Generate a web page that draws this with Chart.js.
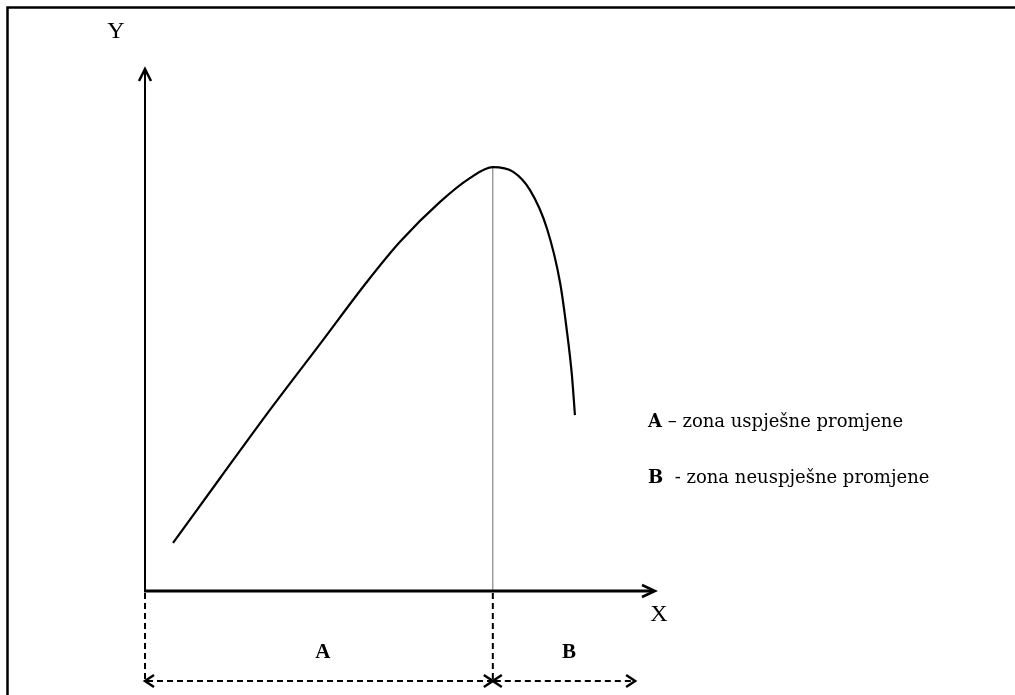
<!DOCTYPE html>
<html>
<head>
<meta charset="utf-8">
<script src="https://cdn.jsdelivr.net/npm/chart.js@4.4.1/dist/chart.umd.min.js"></script>
<style>
  html, body { margin: 0; padding: 0; background: #fff; }
  #wrap { width: 1015px; height: 695px; position: relative; }
  canvas { display: block; }
</style>
</head>
<body>
<div id="wrap"><canvas id="c" width="1015" height="695"></canvas></div>
<script>
// ---- data (arbitrary units 0..100) ----
const curveX = [5.5, 14.7, 24.5, 34.3, 43.5, 50.0, 57.8, 63.7, 68.2, 72.2, 75.5, 78.8, 81.4, 82.7, 83.7, 84.3];
const curveY = [9.2, 21.6, 34.7, 47.3, 59.2, 66.9, 74.5, 79.1, 81.2, 80.3, 76.8, 69.5, 59.0, 50.0, 41.4, 33.7];
const peakX = 68.2;
const peakY = 81.2;
const zoneEndX = 96.1;     // end of zone B arrow
const axisLabels = ['X', 'Y'];
const zoneLabels = ['A', 'B'];
const zoneTexts = [' \u2013 zona uspje\u0161ne promjene', '  - zona neuspje\u0161ne promjene'];

const curve = curveX.map((x, i) => ({ x: x, y: curveY[i] }));
const peakLine = [{ x: peakX, y: 0 }, { x: peakX, y: peakY }];

function arrowHead(ctx, tx, ty, dx, dy, len, half) {
  const n = Math.hypot(dx, dy); dx /= n; dy /= n;
  const px = -dy, py = dx;
  ctx.beginPath();
  ctx.moveTo(tx - dx * len + px * half, ty - dy * len + py * half);
  ctx.lineTo(tx, ty);
  ctx.lineTo(tx - dx * len - px * half, ty - dy * len - py * half);
  ctx.stroke();
}

const decor = {
  id: 'decor',
  afterDraw(chart) {
    const ctx = chart.ctx;
    const xs = chart.scales.x, ys = chart.scales.y;
    const X = v => xs.getPixelForValue(v);
    const Y = v => ys.getPixelForValue(v);
    const x0 = X(0), y0 = Y(0), xEnd = X(100), yTop = Y(100);
    const xp = X(peakX), xB = X(zoneEndX);
    const yDash = y0 + 90;

    ctx.save();
    ctx.strokeStyle = '#000';
    ctx.lineCap = 'butt';

    // frame
    ctx.lineWidth = 2.5;
    ctx.beginPath();
    ctx.moveTo(7.5, 695); ctx.lineTo(7.5, 7.5); ctx.lineTo(1015, 7.5);
    ctx.stroke();

    // Y axis
    ctx.lineWidth = 2;
    ctx.beginPath(); ctx.moveTo(x0, y0 + 1); ctx.lineTo(x0, yTop + 1); ctx.stroke();
    ctx.lineWidth = 2.5;
    arrowHead(ctx, x0, yTop, 0, -1, 12, 6);

    // X axis
    ctx.lineWidth = 3;
    ctx.beginPath(); ctx.moveTo(x0 - 1, y0); ctx.lineTo(xEnd - 1, y0); ctx.stroke();
    ctx.lineWidth = 2.5;
    arrowHead(ctx, xEnd, y0, 1, 0, 13, 6);

    // dashed lines
    ctx.lineWidth = 2;
    ctx.setLineDash([6, 4]);
    ctx.beginPath(); ctx.moveTo(x0, y0 + 2); ctx.lineTo(x0, yDash); ctx.stroke();
    ctx.beginPath(); ctx.moveTo(xp, y0 + 2); ctx.lineTo(xp, yDash); ctx.stroke();
    ctx.beginPath(); ctx.moveTo(x0 + 2, yDash); ctx.lineTo(xp - 2, yDash); ctx.stroke();
    ctx.beginPath(); ctx.moveTo(xp + 2, yDash); ctx.lineTo(xB - 2, yDash); ctx.stroke();
    ctx.setLineDash([]);
    ctx.lineWidth = 2.5;
    arrowHead(ctx, x0, yDash, -1, 0, 9, 6);
    arrowHead(ctx, xp, yDash, 1, 0, 9, 6);
    arrowHead(ctx, xp, yDash, -1, 0, 9, 6);
    arrowHead(ctx, xB, yDash, 1, 0, 9, 6);

    // axis labels
    ctx.fillStyle = '#000';
    ctx.textAlign = 'center';
    ctx.textBaseline = 'middle';
    ctx.font = '24px "Liberation Serif"';
    ctx.fillText(axisLabels[1], x0 - 29, yTop - 37);
    ctx.fillText(axisLabels[0], xEnd + 4, y0 + 24);

    // zone labels
    ctx.font = 'bold 21px "Liberation Serif"';
    ctx.fillText(zoneLabels[0], (x0 + xp) / 2 + 4, y0 + 62);
    ctx.fillText(zoneLabels[1], (xp + xB) / 2 + 5, y0 + 62);

    // legend text
    ctx.textAlign = 'left';
    const lx = 648;
    const ly = [422, 478];
    for (let i = 0; i < 2; i++) {
      ctx.font = 'bold 18px "DejaVu Serif"';
      ctx.fillText(zoneLabels[i], lx, ly[i]);
      const w = ctx.measureText(zoneLabels[i]).width;
      ctx.font = '18px "DejaVu Serif"';
      ctx.fillText(zoneTexts[i], lx + w, ly[i]);
    }
    ctx.restore();
  }
};

new Chart(document.getElementById('c'), {
  type: 'scatter',
  data: {
    datasets: [
      {
        data: curve,
        showLine: true,
        borderColor: '#000',
        borderWidth: 2.2,
        pointRadius: 0,
        cubicInterpolationMode: 'monotone',
        fill: false
      },
      {
        data: peakLine,
        showLine: true,
        borderColor: '#6e6e6e',
        borderWidth: 1,
        pointRadius: 0,
        fill: false
      }
    ]
  },
  options: {
    responsive: false,
    animation: false,
    devicePixelRatio: 1,
    layout: { padding: { left: 145, right: 360, top: 69, bottom: 104 } },
    plugins: { legend: { display: false }, tooltip: { enabled: false } },
    scales: {
      x: { type: 'linear', min: 0, max: 100, display: false },
      y: { type: 'linear', min: 0, max: 100, display: false }
    }
  },
  plugins: [decor]
});
</script>
</body>
</html>
